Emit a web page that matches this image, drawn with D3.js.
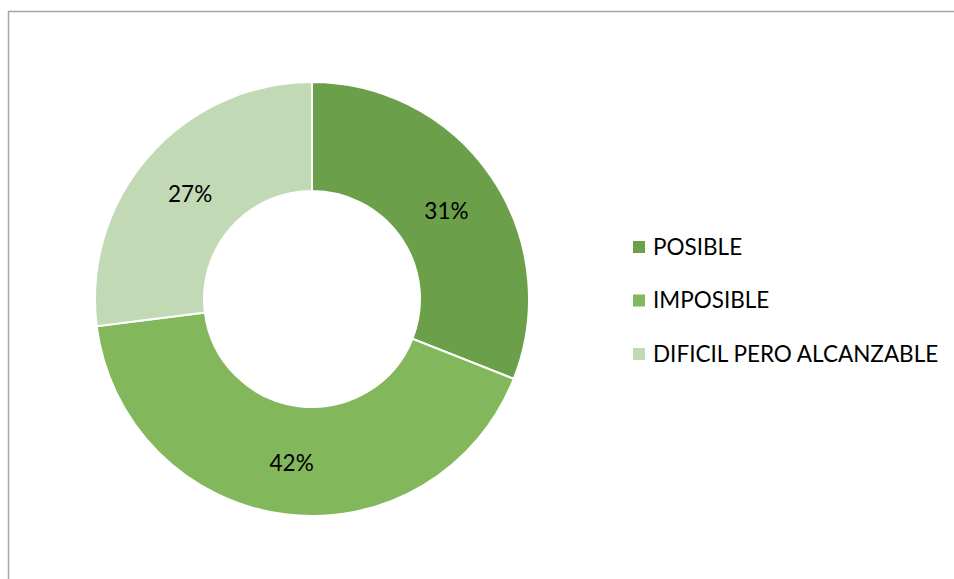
<!DOCTYPE html>
<html>
<head>
<meta charset="utf-8">
<script src="https://cdn.jsdelivr.net/npm/d3@7"></script>
<style>
    body { margin: 0; background: #fff; }
    svg { display: block; font-family: Lato, "Open Sans", sans-serif; }
</style>
</head>
<body>
<svg id="chart" width="954" height="579"></svg>
<script>
const categories = ['POSIBLE', 'IMPOSIBLE', 'DIFICIL PERO ALCANZABLE'];
const values = [31, 42, 27];
const colors = ['#6b9f4a', '#82b85b', '#c2d9b5'];

const svg = d3.select('#chart');

// chart frame (runs off the right and bottom of the window)
svg.append('rect')
    .attr('x', 8.5).attr('y', 11.5)
    .attr('width', 1000).attr('height', 700)
    .attr('fill', 'none')
    .attr('stroke', '#a6a6a6')
    .attr('stroke-width', 1.5);

const cx = 312, cy = 299, outerR = 217, innerR = 108;

const data = categories.map(function(c, i) { return { name: c, value: values[i], color: colors[i] }; });

const pie = d3.pie().sort(null).value(function(d) { return d.value; });
const arc = d3.arc().innerRadius(innerR).outerRadius(outerR);
const labelArc = d3.arc().innerRadius((innerR + outerR) / 2).outerRadius((innerR + outerR) / 2);

const g = svg.append('g').attr('transform', 'translate(' + cx + ',' + cy + ')');

const total = d3.sum(values);

g.selectAll('path')
    .data(pie(data))
    .join('path')
    .attr('d', arc)
    .attr('fill', function(d) { return d.data.color; })
    .attr('stroke', '#fff')
    .attr('stroke-width', 2);

g.selectAll('text')
    .data(pie(data))
    .join('text')
    .attr('transform', function(d) {
        let c = labelArc.centroid(d);
        return 'translate(' + c[0] + ',' + (c[1] + 3) + ')';
    })
    .attr('text-anchor', 'middle')
    .attr('dy', '0.35em')
    .attr('font-size', 22.5)
    .attr('fill', '#000')
    .text(function(d) { return Math.round(d.data.value / total * 100) + '%'; });

// legend
const legend = svg.append('g').attr('transform', 'translate(633,247)');
const rowStep = 53.5;

const rows = legend.selectAll('g')
    .data(data)
    .join('g')
    .attr('transform', function(d, i) { return 'translate(0,' + (i * rowStep) + ')'; });

rows.append('rect')
    .attr('x', 0).attr('y', -6)
    .attr('width', 12).attr('height', 12)
    .attr('fill', function(d) { return d.color; });

rows.append('text')
    .attr('x', 20)
    .attr('dy', '0.35em')
    .attr('font-size', 22.5)
    .attr('fill', '#000')
    .text(function(d) { return d.name; });
</script>
</body>
</html>
